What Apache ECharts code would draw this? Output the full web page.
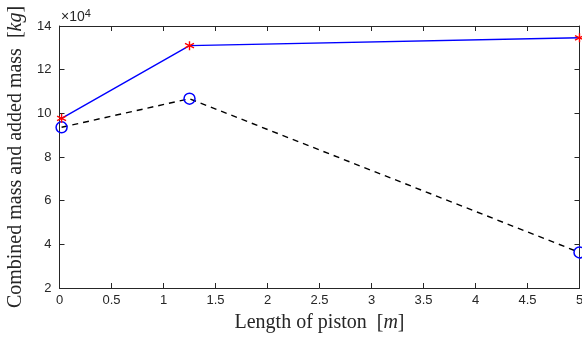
<!DOCTYPE html>
<html><head><meta charset="utf-8">
<script src="https://cdn.jsdelivr.net/npm/echarts@6/dist/echarts.min.js"></script>
<style>html,body{margin:0;padding:0;background:#fff}#c{width:582px;height:342px}</style>
</head><body><div id="c"></div>
<script>
const pistonLength = [0.02, 1.25, 5];
const combinedMass = [97700, 131000, 134600];
const addedMass = [93600, 106700, 36300];
const xTicks = [0, 5, 0.5];
const yTicks = [20000, 140000, 20000];

const chart = echarts.init(document.getElementById('c'));
const axisColor = '#262626';
const serif = 'Liberation Serif';
const sans = 'Liberation Sans';
const starPath = 'path://M0,-5L0,5M-4.33,-2.5L4.33,2.5M-4.33,2.5L4.33,-2.5';
const baseX = {type:'value', min:xTicks[0], max:xTicks[1], interval:xTicks[2],
  axisLine:{show:true, onZero:false, lineStyle:{color:axisColor, width:1}},
  axisTick:{show:true, inside:true, length:5, lineStyle:{color:axisColor}},
  splitLine:{show:false}};
const baseY = {type:'value', min:yTicks[0], max:yTicks[1], interval:yTicks[2],
  axisLine:{show:true, onZero:false, lineStyle:{color:axisColor, width:1}},
  axisTick:{show:true, inside:true, length:5, lineStyle:{color:axisColor}},
  splitLine:{show:false}};
chart.setOption({
  animation:false,
  grid:{left:59.5, right:2.5, top:26, bottom:54, containLabel:false, outerBoundsMode:'none'},
  xAxis:[
    Object.assign({}, baseX, {position:'bottom',
      axisLabel:{show:true, color:axisColor, fontFamily:sans, fontSize:13, margin:6,
        formatter:v=>String(v)},
      name:'Length of piston  [{i|m}]', nameLocation:'middle', nameGap:25,
      nameTextStyle:{fontFamily:serif, fontSize:20, color:axisColor,
        rich:{i:{fontFamily:serif, fontStyle:'italic', fontSize:20, color:axisColor}}}}),
    Object.assign({}, baseX, {position:'top', axisLabel:{show:false}})
  ],
  yAxis:[
    Object.assign({}, baseY, {position:'left',
      axisLabel:{show:true, color:axisColor, fontFamily:sans, fontSize:13, margin:8,
        formatter:v=>String(v/10000)},
      name:'Combined mass and added mass  [{i|kg}]', nameLocation:'middle', nameGap:33,
      nameTextStyle:{fontFamily:serif, fontSize:20, color:axisColor,
        rich:{i:{fontFamily:serif, fontStyle:'italic', fontSize:20, color:axisColor}}}}),
    Object.assign({}, baseY, {position:'right', axisLabel:{show:false}})
  ],
  graphic:[{type:'text', left:61, top:8,
    style:{text:'×10{s|4}', fill:axisColor, font:'14px "Liberation Sans"',
      rich:{s:{fontSize:11, verticalAlign:'top', padding:[0,0,8,0], fontFamily:sans, fill:axisColor}}}}],
  series:[
    {type:'line', data:pistonLength.map((x,i)=>[x, combinedMass[i]]),
      lineStyle:{color:'#0000ff', width:1.4}, symbol:starPath, symbolSize:9,
      itemStyle:{color:'rgba(0,0,0,0)', borderColor:'#ff0000', borderWidth:1.4},
      z:3},
    {type:'line', data:pistonLength.map((x,i)=>[x, addedMass[i]]),
      lineStyle:{color:'#000000', width:1.4, type:[6,5]}, symbol:'circle', symbolSize:11,
      itemStyle:{color:'rgba(0,0,0,0)', borderColor:'#0000ff', borderWidth:1.5},
      z:2}
  ]
});
</script></body></html>
